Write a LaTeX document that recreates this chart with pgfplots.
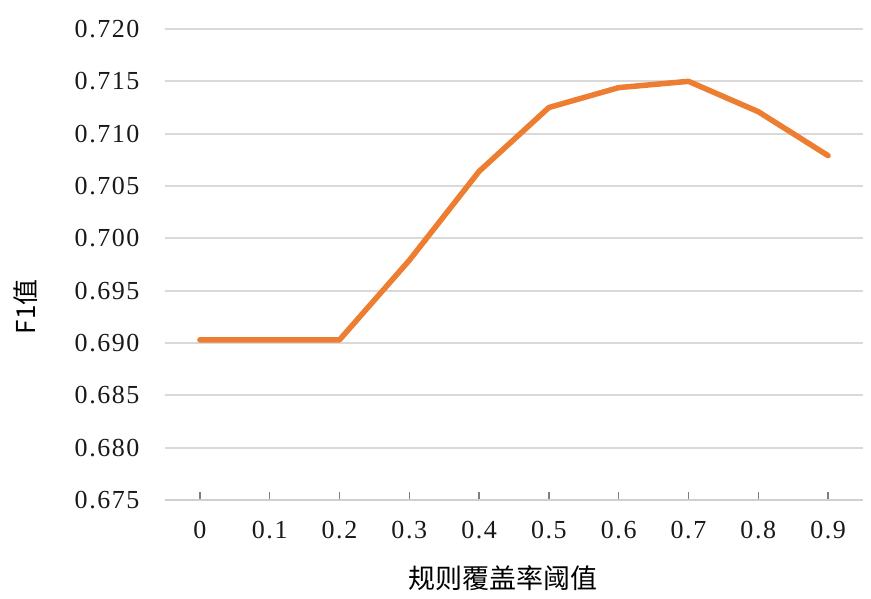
\documentclass[border=0pt]{standalone}
\usepackage{fontspec}
\setmainfont{Liberation Serif}
\newfontfamily\tickfont[LetterSpace=6]{Liberation Serif}
\newfontfamily\cjk{Noto Sans CJK SC}
\usepackage{pgfplots}
\pgfplotsset{compat=1.18}
\definecolor{lineor}{HTML}{ED7D31}
\definecolor{gridc}{HTML}{D9D9D9}
\definecolor{axc}{HTML}{D0D0D0}
\definecolor{tickc}{HTML}{7F7F7F}
\begin{document}
\begin{tikzpicture}
\begin{axis}[
  name=ax,
  scale only axis,
  width=698pt, height=471pt,
  xmin=-0.5, xmax=9.5,
  ymin=0.675, ymax=0.720,
  xtick={0,...,9},
  xticklabels={0,0.1,0.2,0.3,0.4,0.5,0.6,0.7,0.8,0.9},
  ytick={0.675,0.680,...,0.7201},
  yticklabel style={/pgf/number format/fixed, /pgf/number format/fixed zerofill, /pgf/number format/precision=3, xshift=-22pt},
  /pgf/number format/assume math mode=true,
  ticklabel style={font=\tickfont\fontsize{26}{28}\selectfont, text=black!90},
  axis x line*=bottom,
  axis y line*=left,
  y axis line style={draw=none},
  ytick style={draw=none},
  x axis line style={color=axc, line width=2.5pt, -},
  xtick style={color=tickc, line width=1.5pt},
  major tick length=8pt,
  tick align=inside,
  ymajorgrids,
  grid style={color=gridc, line width=1.8pt},
  xticklabel style={yshift=-18pt},
  clip=false,
]
\addplot[color=lineor, line width=5.5pt, line join=round, line cap=round] coordinates {
(0,0.6903) (1,0.6903) (2,0.6903) (3,0.6979) (4,0.7064) (5,0.7125) (6,0.7144) (7,0.7150) (8,0.7121) (9,0.7079)
};
\node[font=\cjk\fontsize{26}{30}\selectfont, rotate=90] at (rel axis cs:-0.200,0.41) {F1值};
\node[font=\cjk\fontsize{27}{30}\selectfont] at (rel axis cs:0.484,-0.166) {规则覆盖率阈值};
\end{axis}
\pgfresetboundingbox
\useasboundingbox (-165pt,-98pt) rectangle (706pt,500pt);
\end{tikzpicture}
\end{document}
